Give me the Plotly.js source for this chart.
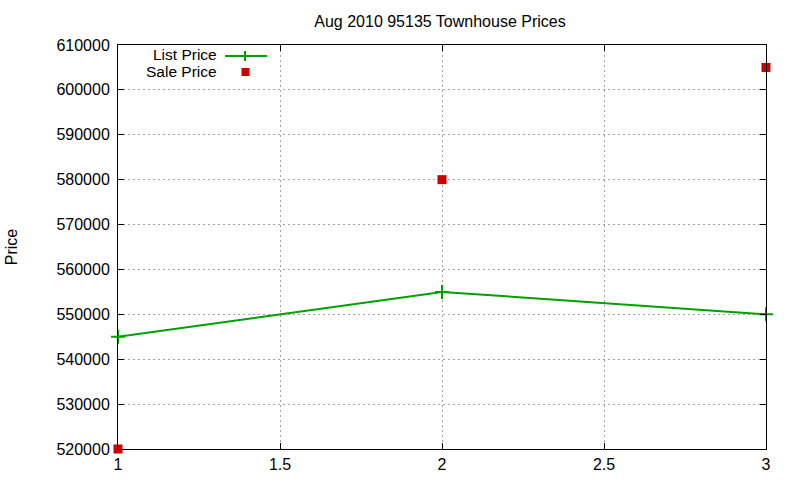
<!DOCTYPE html>
<html><head><meta charset="utf-8">
<script src="https://cdn.plot.ly/plotly-3.0.1.min.js"></script>
<style>html,body{margin:0;padding:0;background:#fff}#c{width:800px;height:480px}</style>
</head><body><div id="c"></div>
<script>
var xs = [1, 2, 3];
var listPrice = [545000, 555000, 550000];
var salePrice = [520000, 580000, 605000];
var seriesNames = ['List Price', 'Sale Price'];

var L = 118, R = 766, T = 45, B = 449, W = 800, H = 480;
function px(x){ return (x - L) / (R - L); }
function py(y){ return (B - y) / (B - T); }

var green = '#00a000', red = '#cc0000';
var font = {family: 'Liberation Sans, Arial, sans-serif', size: 16, color: '#000'};
var legendFont = {family: 'Liberation Sans, Arial, sans-serif', size: 15.5, color: '#000'};

var traces = [
  {x: xs, y: listPrice, type: 'scatter', mode: 'lines+markers', name: seriesNames[0],
   line: {color: green, width: 2}, marker: {symbol: 'cross-thin', size: 10, line: {color: green, width: 2}},
   cliponaxis: false, showlegend: false},
  {x: xs, y: salePrice, type: 'scatter', mode: 'markers', name: seriesNames[1],
   marker: {symbol: 'square', size: 9, color: red}, cliponaxis: false, showlegend: false}
];

var axisCommon = {
  showline: true, linecolor: '#000', linewidth: 1, mirror: 'allticks',
  ticks: 'inside', ticklen: 6, tickcolor: '#000', tickwidth: 1,
  showgrid: true, gridcolor: '#a0a0a0', gridwidth: 1, griddash: '2px,3px',
  zeroline: false, tickfont: font
};

var layout = {
  width: W, height: H,
  margin: {l: L, r: W - R, t: T, b: H - B},
  paper_bgcolor: '#fff', plot_bgcolor: '#fff',
  font: font,
  title: {text: 'Aug 2010 95135 Townhouse Prices', font: font, x: 0.55, xanchor: 'center', y: 1 - 21/H, yanchor: 'middle'},
  xaxis: Object.assign({}, axisCommon, {range: [1, 3], dtick: 0.5, tickformat: '', ticklabelstandoff: 1}),
  yaxis: Object.assign({}, axisCommon, {range: [520000, 610000], dtick: 10000, tickformat: 'd', ticklabelstandoff: 4,
    title: {text: 'Price', font: font, standoff: 34}}),
  showlegend: false,
  annotations: [
    {xref: 'paper', yref: 'paper', x: px(218), y: py(54), xanchor: 'right', yanchor: 'middle',
     text: seriesNames[0], showarrow: false, font: legendFont, borderpad: 0},
    {xref: 'paper', yref: 'paper', x: px(218), y: py(72), xanchor: 'right', yanchor: 'middle',
     text: seriesNames[1], showarrow: false, font: legendFont, borderpad: 0}
  ],
  shapes: [
    {type: 'line', xref: 'paper', yref: 'paper', x0: px(225), x1: px(267), y0: py(56), y1: py(56),
     line: {color: green, width: 2}},
    {type: 'line', xref: 'paper', yref: 'paper', x0: px(245), x1: px(245), y0: py(51), y1: py(61),
     line: {color: green, width: 2}},
    {type: 'rect', xref: 'paper', yref: 'paper', x0: px(241.5), x1: px(249.5), y0: py(68), y1: py(76),
     fillcolor: red, line: {width: 0}}
  ]
};

Plotly.newPlot('c', traces, layout, {staticPlot: true, displayModeBar: false});
</script>
</body></html>
